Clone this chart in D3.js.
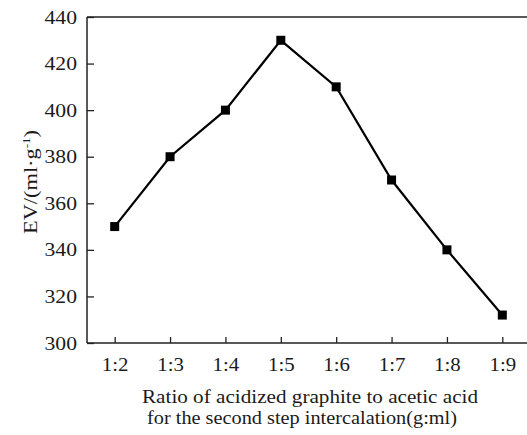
<!DOCTYPE html>
<html>
<head>
<meta charset="utf-8">
<script src="https://cdn.jsdelivr.net/npm/d3@7"></script>
<style>
    body { margin: 0; background: #fff; }
    svg { display: block; }
    text { font-family: "Liberation Serif", "Times New Roman", serif; fill: #1a1a1a; }
</style>
</head>
<body>
<div id="chart"></div>
<script>
// data
var ratios = ["1:2", "1:3", "1:4", "1:5", "1:6", "1:7", "1:8", "1:9"];
var evValues = [350, 380, 400, 430, 410, 370, 340, 312];
var yTicks = [300, 320, 340, 360, 380, 400, 420, 440];

var width = 527, height = 435;
// plot box edges (note: "top" is taken by window.top)
var plotLeft = 87, plotTop = 17, plotBottom = 343, plotRight = 530;

var svg = d3.select("#chart").append("svg")
    .attr("width", width)
    .attr("height", height);

var x = d3.scalePoint()
    .domain(ratios)
    .range([plotLeft, plotRight])
    .padding(0.5);

var y = d3.scaleLinear()
    .domain([300, 440])
    .range([plotBottom, plotTop]);

// stretch labels a little, the original font is wider than Times
function widen(sel, k) {
    sel.each(function () {
        var w = this.getComputedTextLength();
        d3.select(this).attr("textLength", w * k).attr("lengthAdjust", "spacingAndGlyphs");
    });
}

var yAxis = svg.append("g")
    .attr("transform", "translate(" + plotLeft + ",0)")
    .call(d3.axisLeft(y).tickValues(yTicks).tickSize(-7).tickSizeOuter(0).tickPadding(10));

var xAxis = svg.append("g")
    .attr("transform", "translate(0," + plotBottom + ")")
    .call(d3.axisBottom(x).tickSize(-6).tickSizeOuter(0).tickPadding(15));

[yAxis, xAxis].forEach(function (g) {
    g.select(".domain").attr("stroke", "#222").attr("stroke-width", 1.5);
    g.selectAll(".tick line").attr("stroke", "#222").attr("stroke-width", 1.3);
    g.selectAll(".tick text")
        .attr("font-size", 19)
        .attr("font-family", "Liberation Serif")
        .attr("fill", "#1a1a1a");
});
xAxis.select(".domain").attr("d", "M" + plotLeft + ",0H" + plotRight);
yAxis.select(".domain").attr("d", "M0," + plotTop + "V" + plotBottom);
widen(yAxis.selectAll(".tick text"), 1.14);
widen(xAxis.selectAll(".tick text"), 1.1);

// top frame line
svg.append("line")
    .attr("x1", plotLeft).attr("x2", plotRight)
    .attr("y1", plotTop).attr("y2", plotTop)
    .attr("stroke", "#222").attr("stroke-width", 1.5);

var line = d3.line()
    .x(function (d, i) { return x(ratios[i]); })
    .y(function (d) { return y(d); });

svg.append("path")
    .datum(evValues)
    .attr("d", line)
    .attr("fill", "none")
    .attr("stroke", "#000")
    .attr("stroke-width", 2.2);

svg.selectAll("rect.pt")
    .data(evValues)
    .enter().append("rect")
    .attr("class", "pt")
    .attr("x", function (d, i) { return x(ratios[i]) - 4.5; })
    .attr("y", function (d) { return y(d) - 4.5; })
    .attr("width", 9)
    .attr("height", 9)
    .attr("fill", "#000");

// axis titles
var t1 = svg.append("text")
    .attr("x", 310).attr("y", 403)
    .attr("text-anchor", "middle")
    .attr("font-size", 18.5)
    .text("Ratio of acidized graphite to acetic acid");
t1.attr("textLength", 336).attr("lengthAdjust", "spacingAndGlyphs");

var t2 = svg.append("text")
    .attr("x", 302).attr("y", 424)
    .attr("text-anchor", "middle")
    .attr("font-size", 18.5)
    .text("for the second step intercalation(g:ml)");
t2.attr("textLength", 310).attr("lengthAdjust", "spacingAndGlyphs");

var yl = svg.append("text")
    .attr("transform", "translate(37,182) rotate(-90)")
    .attr("text-anchor", "middle")
    .attr("font-size", 19);
yl.append("tspan").text("EV/(ml·g");
yl.append("tspan").attr("dy", -7).attr("font-size", 11).text("-1");
yl.append("tspan").attr("dy", 7).text(")");
yl.attr("textLength", 104).attr("lengthAdjust", "spacingAndGlyphs");
</script>
</body>
</html>
